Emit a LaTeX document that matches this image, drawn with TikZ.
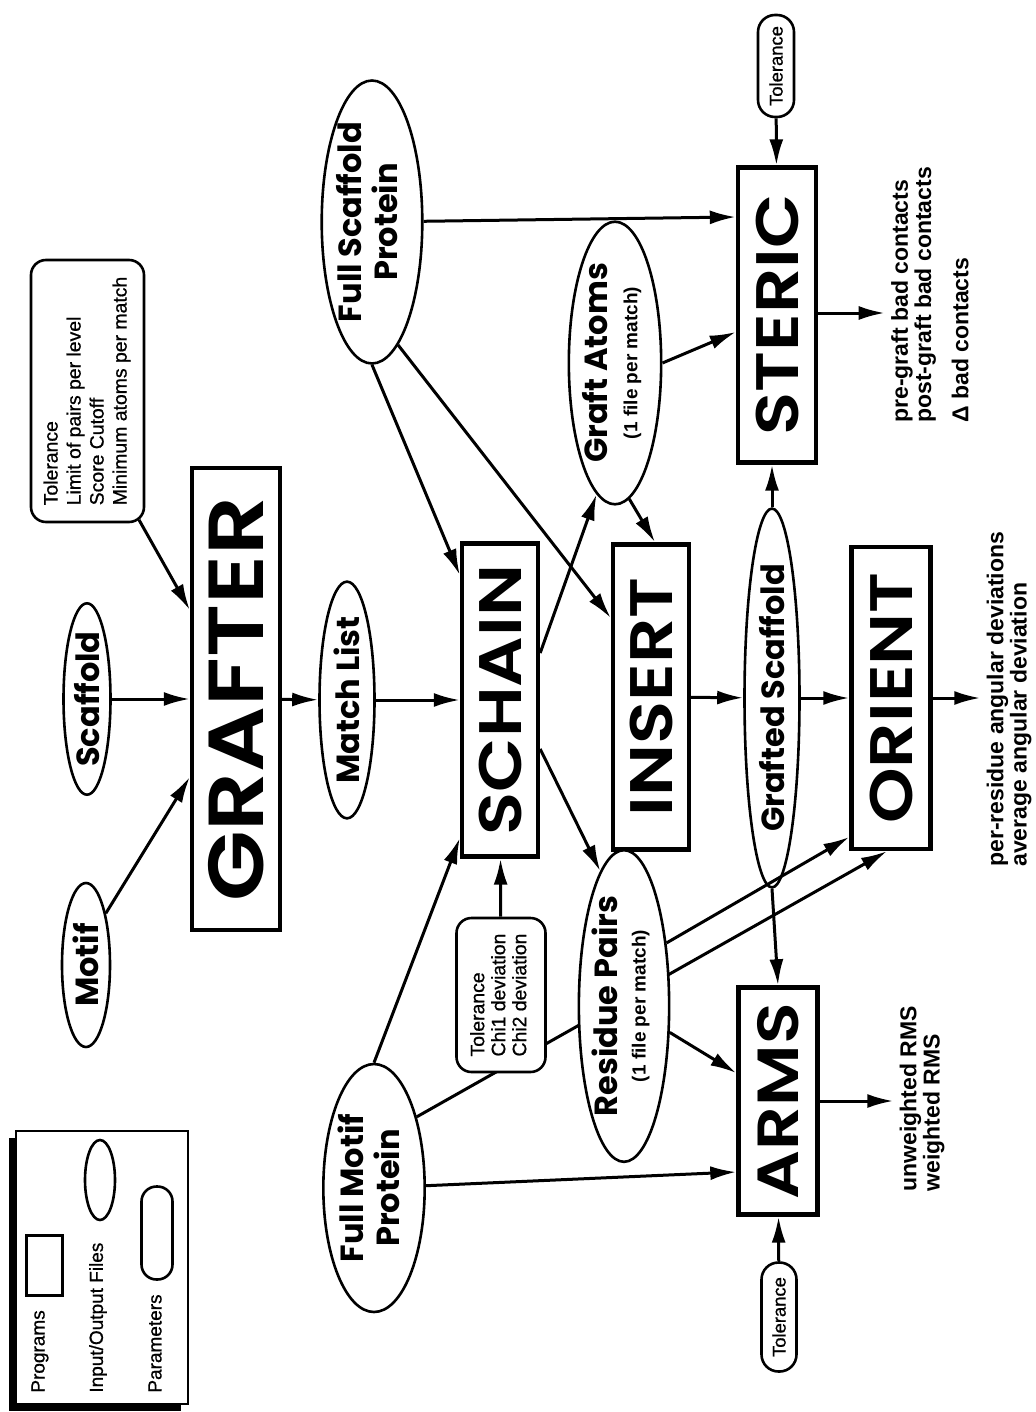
\documentclass[tikz,border=0pt]{standalone}
\usepackage{fontspec}
\setmainfont{Liberation Sans}
\IfFontExistsTF{Poppins SemiBold}
  {\newfontfamily\progfontraw[FakeStretch=1.18]{Poppins SemiBold}}
  {\newfontfamily\progfontraw[FakeStretch=1.18,FakeBold=2]{Poppins}}
\newcommand\progfont{\progfontraw\mdseries}
\newfontfamily\filefont{Poppins}
\newfontfamily\pmfont[FakeBold=0.8]{Liberation Sans}
\usetikzlibrary{arrows.meta,shapes.geometric}
\pgfdeclarelayer{bg}
\pgfsetlayers{bg,main}
\newcommand\rtext[1]{\rotatebox{90}{#1}}
\newcommand\prtxt[2]{\rtext{\progfont\fontsize{#1}{#1}\selectfont #2}}
\newcommand\fltxt[1]{\rtext{\filefont\bfseries\fontsize{16}{17}\selectfont #1}}
\newcommand\pmtxt[2]{\rtext{\pmfont\fontsize{9.7}{#1}\selectfont\begin{tabular}{@{}l@{}}#2\end{tabular}}}
\newcommand\outtxt[1]{\rtext{\bfseries\fontsize{11.5}{11}\selectfont\begin{tabular}{@{}l@{}}#1\end{tabular}}}
\begin{document}
\begin{tikzpicture}[x=0.5pt,y=-0.5pt,
  prog/.style={draw,line width=2.2pt,fill=white,inner sep=0pt},
  file/.style={draw,ellipse,line width=1.3pt,fill=white,inner sep=0pt},
  param/.style={draw,rounded corners=7.5pt,line width=1.3pt,fill=white,inner sep=0pt},
  arr/.style={-{Latex[length=13pt,width=7pt]},line width=1.5pt},
  outnode/.style={inner xsep=3pt,inner ysep=0pt,anchor=south},
  lgtext/.style={inner sep=0pt,anchor=south}]
\path[use as bounding box] (0,0) rectangle (1036,1412);

% legend
\fill (9,1138) rectangle (181,1411);
\draw[fill=white,line width=1pt] (16,1131) rectangle (188,1404);
\node[prog,line width=1.5pt,minimum width=18pt,minimum height=30pt] (lgprog) at (44,1265) {};
\node[file,minimum width=15pt,minimum height=40pt] (lgfile) at (100,1180) {};
\node[param,minimum width=15.5pt,minimum height=46.5pt] (lgparam) at (157,1233) {};
\node[lgtext] (lgprogt) at (40,1393) {\rtext{\pmfont\fontsize{9.5}{11}\selectfont Programs}};
\node[lgtext] (lgfilet) at (98,1393) {\rtext{\pmfont\fontsize{9.5}{11}\selectfont Input/Output Files}};
\node[lgtext] (lgparamt) at (155,1393) {\rtext{\pmfont\fontsize{9.5}{11}\selectfont Parameters}};

% programs
\node[prog,minimum width=44pt,minimum height=231pt] (grafter) at (236,699) {\prtxt{39}{GRAFTER}};
\node[prog,minimum width=38pt,minimum height=156.5pt] (schain) at (500,700) {\prtxt{30}{SCHAIN}};
\node[prog,minimum width=38pt,minimum height=152.5pt] (insert) at (651,697) {\prtxt{30}{INSERT}};
\node[prog,minimum width=39pt,minimum height=147.5pt] (steric) at (777,315) {\prtxt{30}{STERIC}};
\node[prog,minimum width=39.5pt,minimum height=151pt] (orient) at (891,698) {\prtxt{30}{ORIENT}};
\node[prog,minimum width=39.5pt,minimum height=113.5pt] (arms) at (778,1101) {\prtxt{29}{ARMS}};

% files
\node[file,minimum width=24pt,minimum height=82pt] (motif) at (86,965) {\fltxt{Motif}};
\node[file,minimum width=23.5pt,minimum height=89pt] (scaffold) at (87,699) {\fltxt{Scaffold}};
\node[file,minimum width=27.5pt,minimum height=117pt] (matchlist) at (347,700) {\fltxt{Match List}};
\node[file,minimum width=42pt,minimum height=137pt] (fsp) at (372,222) {\fltxt{\begin{tabular}{@{}c@{}}Full Scaffold\\Protein\end{tabular}}};
\node[file,minimum width=41pt,minimum height=124pt] (fmp) at (374,1188) {\fltxt{\begin{tabular}{@{}c@{}}Full Motif\\Protein\end{tabular}}};
\node[file,minimum width=45pt,minimum height=131pt] (graftatoms) at (615,363) {\fltxt{\begin{tabular}{@{}c@{}}Graft Atoms\\[-2pt]{\rmfamily\bfseries\fontsize{9.5}{10}\selectfont (1 file per match)}\end{tabular}}};
\node[file,minimum width=44pt,minimum height=139pt] (rp) at (624,1006) {\fltxt{\begin{tabular}{@{}c@{}}Residue Pairs\\[-3pt]{\rmfamily\bfseries\fontsize{9.5}{10}\selectfont (1 file per match)}\end{tabular}}};
\node[file,minimum width=27.5pt,minimum height=168.5pt] (grafted) at (772,698) {\fltxt{Grafted Scaffold}};

% parameters
\node[param,minimum width=56.5pt,minimum height=131pt] (gparam) at (87.5,391) {\pmtxt{11.5}{Tolerance\\Limit of pairs per level\\Score Cutoff\\Minimum atoms per match}};
\node[param,minimum width=44.5pt,minimum height=77pt] (sparam) at (501,995) {\pmtxt{10.5}{Tolerance\\Chi1 deviation\\Chi2 deviation}};
\node[param,rounded corners=8.5pt,minimum width=18pt,minimum height=51pt] (tolsteric) at (776,66) {\rtext{\pmfont\fontsize{9.2}{11}\selectfont Tolerance}};
\node[param,rounded corners=8.5pt,minimum width=17.5pt,minimum height=54.5pt] (tolarms) at (779,1317) {\rtext{\pmfont\fontsize{9.2}{11}\selectfont Tolerance}};

% outputs
\node[outnode] (stericout) at (933,423) {\outtxt{pre-graft bad contacts\\post-graft bad contacts\\[7pt]Δ bad contacts}};
\node[outnode] (orientout) at (1010,867) {\outtxt{per-residue angular deviations\\average angular deviation}};
\node[outnode] (armsout) at (923,1192) {\outtxt{unweighted RMS\\weighted RMS}};

% connectors
\begin{pgfonlayer}{bg}
\draw[arr] (fmp.59) -- (orient.south -| 887,0);
\end{pgfonlayer}
\draw[arr] (motif.69) -- (grafter.west |- 0,777);
\draw[arr] (scaffold) -- (grafter);
\draw[arr,shorten <=-2pt] (gparam.-68) -- (grafter.west |- 0,610);
\draw[arr] (grafter) -- (matchlist);
\draw[arr] (matchlist) -- (schain);
\draw[arr] (fsp.south) -- (schain.west |- 0,575);
\draw[arr] (fmp.north) -- (schain.west |- 0,838);
\draw[arr] (sparam) -- (schain);
\draw[arr] (schain.east |- 0,653) -- (graftatoms.262);
\draw[arr] (graftatoms.276) -- (insert.north -| 655,0);
\draw[arr] (graftatoms.east) -- (steric.west |- 0,332);
\draw[arr] (fsp) -- (steric.west |- 0,217);
\draw[arr] (fsp.-78) -- (insert.west |- 0,618);
\draw[arr] (tolsteric) -- (steric);
\draw[arr] (steric.east |- 0,313) -- (stericout.west |- 0,313);
\draw[arr] (grafted) -- (steric.south -| grafted);
\draw[arr] (insert) -- (grafted);
\draw[arr] (grafted) -- (orient);
\draw[arr] (grafted.south) -- (arms.north);
\draw[arr] (orient) -- (orientout.west |- orient);
\draw[arr] (fmp) -- (arms.west |- 0,1172);
\draw[arr] (rp.56) -- (orient.west |- 0,837);
\draw[arr] (rp.-30) -- (arms.west |- 0,1073);
\draw[arr] (schain.east |- 0,749) -- (rp.100);
\draw[arr] (tolarms) -- (arms);
\draw[arr] (arms) -- (armsout.west |- arms);
\end{tikzpicture}
\end{document}
